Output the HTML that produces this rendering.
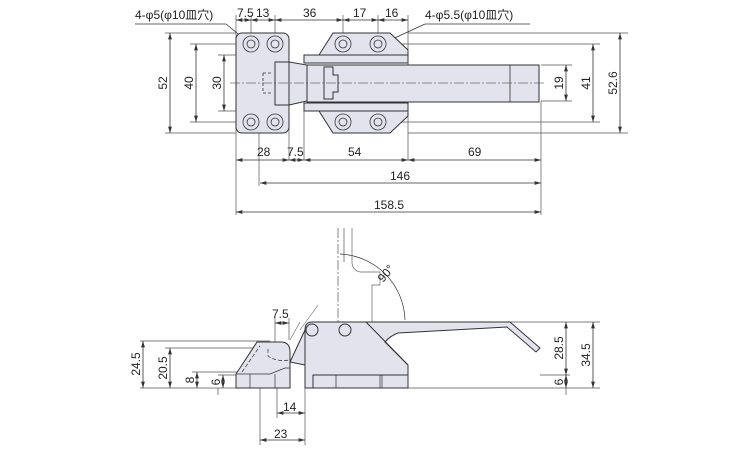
<!DOCTYPE html>
<html><head><meta charset="utf-8"><style>
html,body{margin:0;padding:0;background:#fff}
svg{display:block}
text{font-family:"Liberation Sans","Noto Sans CJK JP",sans-serif;font-size:12px;fill:#222}
</style></head><body>
<svg width="750" height="450" viewBox="0 0 750 450" xmlns="http://www.w3.org/2000/svg">
<defs>
<marker id="a" viewBox="0 0 10 6" refX="10" refY="3" markerWidth="8" markerHeight="5" orient="auto-start-reverse"><path d="M0,0L10,3L0,6z" fill="#333"/></marker>
</defs>
<g stroke="#555" stroke-width="0.7" fill="none">
<!-- top extension lines -->
<path d="M236,15V160 M251,15V44 M275,15V44 M343,15V44 M378,15V44 M408,15V160 M236,160V215 M259,130V186 M289,111V160 M304,111V160 M541,101V215"/>
<path d="M165,33H236 M190,44H251 M218,55H275 M218,111H275 M190,122H251 M165,133H236"/>
<path d="M408,33H628 M390,44H600 M541,65H572 M541,101H572 M390,122H600 M408,133H628"/>
</g>
<g stroke="#333" stroke-width="0.8" fill="none">
<line x1="236" y1="20" x2="251" y2="20" marker-start="url(#a)" marker-end="url(#a)"/>
<line x1="251" y1="20" x2="275" y2="20" marker-start="url(#a)" marker-end="url(#a)"/>
<line x1="275" y1="20" x2="343" y2="20" marker-start="url(#a)" marker-end="url(#a)"/>
<line x1="343" y1="20" x2="378" y2="20" marker-start="url(#a)" marker-end="url(#a)"/>
<line x1="378" y1="20" x2="408" y2="20" marker-start="url(#a)" marker-end="url(#a)"/>
<line x1="170" y1="33" x2="170" y2="133" marker-start="url(#a)" marker-end="url(#a)"/>
<line x1="196" y1="44" x2="196" y2="122" marker-start="url(#a)" marker-end="url(#a)"/>
<line x1="224" y1="55" x2="224" y2="111" marker-start="url(#a)" marker-end="url(#a)"/>
<line x1="566" y1="65" x2="566" y2="101" marker-start="url(#a)" marker-end="url(#a)"/>
<line x1="593" y1="44" x2="593" y2="122" marker-start="url(#a)" marker-end="url(#a)"/>
<line x1="620" y1="33" x2="620" y2="133" marker-start="url(#a)" marker-end="url(#a)"/>
<line x1="236" y1="160" x2="289" y2="160" marker-start="url(#a)" marker-end="url(#a)"/>
<line x1="289" y1="160" x2="304" y2="160" marker-start="url(#a)" marker-end="url(#a)"/>
<line x1="304" y1="160" x2="408" y2="160" marker-start="url(#a)" marker-end="url(#a)"/>
<line x1="408" y1="160" x2="541" y2="160" marker-start="url(#a)" marker-end="url(#a)"/>
<line x1="260" y1="183" x2="541" y2="183" marker-start="url(#a)" marker-end="url(#a)"/>
<line x1="236" y1="212" x2="541" y2="212" marker-start="url(#a)" marker-end="url(#a)"/>
<path d="M226,24 L248,42 M226,24H135 M425,24 L386,42 M425,24H530"/>
</g>
<!-- top view parts -->
<g stroke="#333" stroke-width="1" fill="#e2e3ec">
<rect x="236" y="33" width="53" height="100" rx="6"/>
<rect x="275" y="62" width="14" height="43"/>
<path d="M289,62 L307,65 V101 L289,105 z"/>
<path d="M319,55 L333,33 H390 L408,50 V55 z"/>
<path d="M319,111 L333,133 H390 L408,116 V111 z"/>
<rect x="307" y="65" width="232" height="37"/>
<rect x="304" y="55" width="104" height="8"/>
<rect x="304" y="103" width="104" height="8"/>
<path d="M324,67 H333 V75 H338 V92 H333 V99 H324 z" fill="#e2e3ec"/>
</g>
<g stroke="#333" stroke-width="0.8" fill="none">
<path d="M510,65V102"/>
<path d="M263,73 h10 M263,73 v20 M263,93 h10" stroke-dasharray="3,2"/>
<g fill="#e2e3ec">
<circle cx="251" cy="44" r="8"/><circle cx="275" cy="44" r="8"/><circle cx="251" cy="122" r="8"/><circle cx="275" cy="122" r="8"/>
<circle cx="343" cy="44" r="8"/><circle cx="378" cy="44" r="8"/><circle cx="343" cy="122" r="8"/><circle cx="378" cy="122" r="8"/>
</g>
<g><circle cx="251" cy="44" r="4"/><circle cx="275" cy="44" r="4"/><circle cx="251" cy="122" r="4"/><circle cx="275" cy="122" r="4"/>
<circle cx="343" cy="44" r="4"/><circle cx="378" cy="44" r="4"/><circle cx="343" cy="122" r="4"/><circle cx="378" cy="122" r="4"/></g>
<path d="M230,83H545" stroke-dasharray="10,2,2,2" stroke-width="0.6"/>
</g>
<!-- top texts -->
<text x="135" y="19">4-φ5(φ10皿穴)</text>
<text x="237" y="17">7.5</text><text x="256" y="17">13</text><text x="303" y="17">36</text><text x="353" y="17">17</text><text x="385" y="17">16</text>
<text x="425" y="19">4-φ5.5(φ10皿穴)</text>
<text x="257" y="156">28</text><text x="287" y="156">7.5</text><text x="348" y="156">54</text><text x="468" y="156">69</text>
<text x="390" y="180">146</text><text x="374" y="209">158.5</text>
<text transform="translate(167,83) rotate(-90)" text-anchor="middle">52</text>
<text transform="translate(193,83) rotate(-90)" text-anchor="middle">40</text>
<text transform="translate(221,83) rotate(-90)" text-anchor="middle">30</text>
<text transform="translate(563,83) rotate(-90)" text-anchor="middle">19</text>
<text transform="translate(590,83) rotate(-90)" text-anchor="middle">41</text>
<text transform="translate(617,83) rotate(-90)" text-anchor="middle">52.6</text>

<!-- bottom view -->
<g stroke="#555" stroke-width="0.7" fill="none">
<path d="M338,228V322" stroke-dasharray="10,2,2,2"/>
<path d="M140,341H270 M165,348H257 M192,372H240 M218,375H236 M218,388V395 M275,318V348 M289,318V340 M277,375V418 M305,388V445 M260,350V445"/>
<path d="M510,322H600 M540,375H570 M408,388H600 M566,388V395"/>
<path d="M352,228 V262 Q352,270 360,272 H380 V285 H372 V322" stroke="#666"/>
<path d="M344,228 V262"/>
<path d="M340,254 A68,68 0 0 1 405,320" stroke="#333"/>
</g>
<g stroke="#333" stroke-width="0.8" fill="none">
<line x1="143" y1="341" x2="143" y2="388" marker-start="url(#a)" marker-end="url(#a)"/>
<line x1="170" y1="348" x2="170" y2="388" marker-start="url(#a)" marker-end="url(#a)"/>
<line x1="197" y1="372" x2="197" y2="388" marker-start="url(#a)" marker-end="url(#a)"/>
<line x1="223" y1="375" x2="223" y2="388" marker-start="url(#a)" marker-end="url(#a)"/>
<line x1="275" y1="323" x2="289" y2="323" marker-start="url(#a)" marker-end="url(#a)"/>
<line x1="277" y1="413" x2="305" y2="413" marker-start="url(#a)" marker-end="url(#a)"/>
<line x1="260" y1="440" x2="305" y2="440" marker-start="url(#a)" marker-end="url(#a)"/>
<line x1="566" y1="322" x2="566" y2="375" marker-start="url(#a)" marker-end="url(#a)"/>
<line x1="593" y1="322" x2="593" y2="388" marker-start="url(#a)" marker-end="url(#a)"/>
<line x1="566" y1="375" x2="566" y2="388" marker-start="url(#a)" marker-end="url(#a)"/>
<path d="M237,388 H140" stroke="#555" stroke-width="0.7"/>
</g>
<g stroke="#333" stroke-width="1" fill="#e2e3ec">
<path d="M236,374 L257,342 H281 Q290,342 290,352 V388 H236 z"/>
<path d="M290,362 L305,330 V365 z"/>
<path d="M305,330 Q305,322 312,322 H510 L540,348 L536,352 L507,327 L398,333 Q390,336 385,342 L408,365 V388 H305 z"/>
<path d="M366,322 L408,365" fill="none"/>
<rect x="313" y="375" width="95" height="13"/>
<circle cx="312" cy="330" r="6"/><circle cx="345" cy="330" r="6"/>
</g>
<g stroke="#333" stroke-width="0.7" fill="none">
<path d="M236,374 H270 L285,368 H290 M250,374V388 M275,374V388 M336,375V388 M380,375V388 M382,375V388"/>
<path d="M242,372 L260,346 M268,349 V356 Q276,362 290,360" stroke-dasharray="4,2"/>
<path d="M290,340 L300,322 M300,330 L318,305" stroke-width="0.5"/>
</g>
<text x="272" y="318">7.5</text>
<text x="283" y="411">14</text>
<text x="274" y="438">23</text>
<text transform="translate(389,276) rotate(-50)" text-anchor="middle" font-size="11">90°</text>
<text transform="translate(140,364) rotate(-90)" text-anchor="middle">24.5</text>
<text transform="translate(167,368) rotate(-90)" text-anchor="middle">20.5</text>
<text transform="translate(194,380) rotate(-90)" text-anchor="middle">8</text>
<text transform="translate(220,382) rotate(-90)" text-anchor="middle">6</text>
<text transform="translate(563,348) rotate(-90)" text-anchor="middle">28.5</text>
<text transform="translate(590,355) rotate(-90)" text-anchor="middle">34.5</text>
<text transform="translate(563,382) rotate(-90)" text-anchor="middle">6</text>
</svg>
</body></html>
